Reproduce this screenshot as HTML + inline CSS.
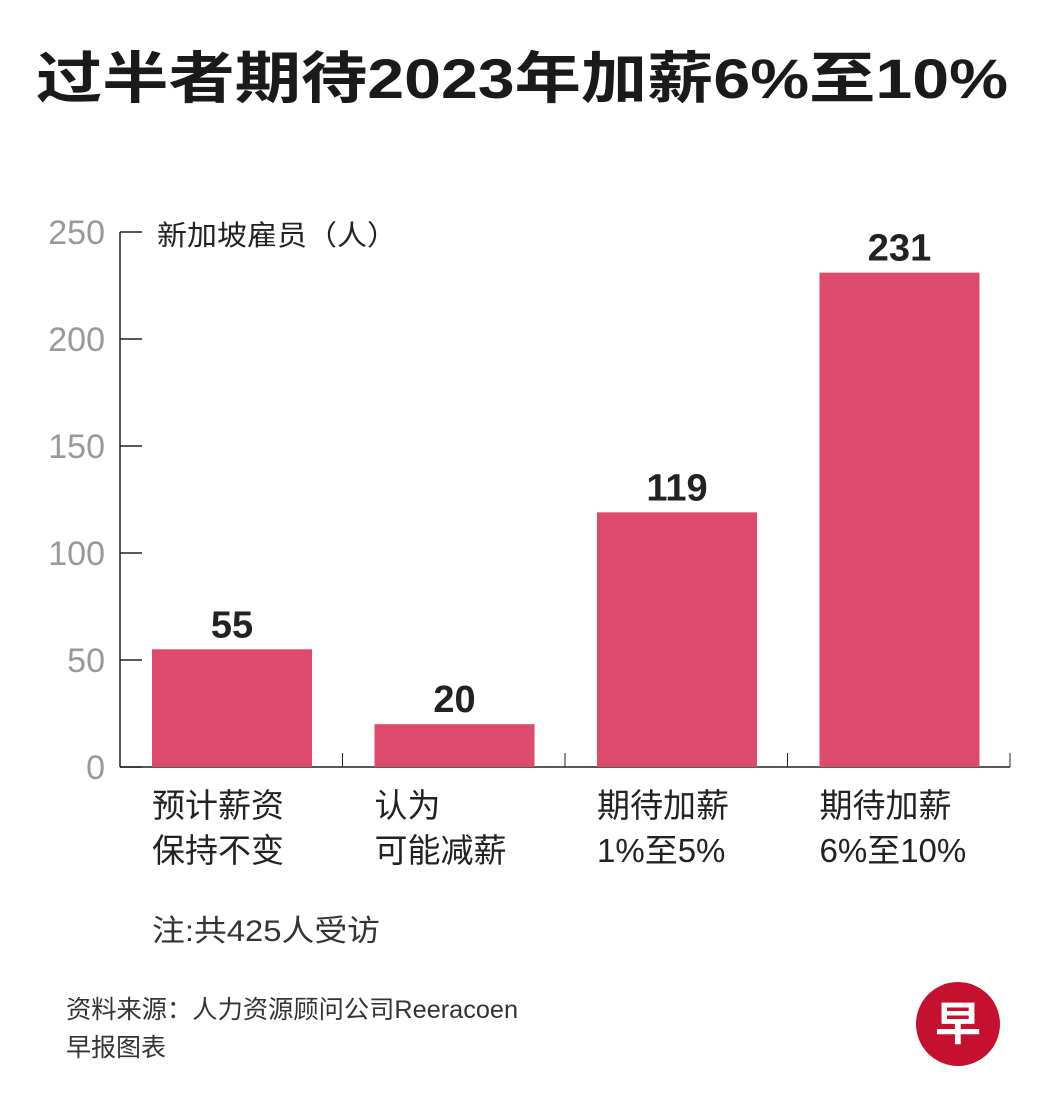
<!DOCTYPE html>
<html><head><meta charset="utf-8">
<style>
html,body{margin:0;padding:0;background:#fff;}
body{width:1042px;height:1112px;overflow:hidden;position:relative;font-family:"Liberation Sans","Noto Sans CJK SC",sans-serif;}
svg text{font-family:"Liberation Sans","Noto Sans CJK SC",sans-serif;}
</style></head>
<body>
<svg id="chart" width="1042" height="1112" viewBox="0 0 1042 1112">
<text x="36" y="98" font-size="56" font-weight="bold" fill="#1a1a1a" textLength="972" lengthAdjust="spacingAndGlyphs">过半者期待2023年加薪6%至10%</text>
<text x="157" y="245" font-size="28" fill="#222" textLength="240" lengthAdjust="spacingAndGlyphs">新加坡雇员（人）</text>
<g id="axes"></g>
<g id="bars"></g>
<text x="152" y="941" font-size="30" fill="#333" textLength="228" lengthAdjust="spacingAndGlyphs">注:共425人受访</text>
<text x="66" y="1018" font-size="25" fill="#333" textLength="452" lengthAdjust="spacingAndGlyphs">资料来源：人力资源顾问公司Reeracoen</text>
<text x="66" y="1056" font-size="25" fill="#333">早报图表</text>
<g>
<circle cx="958" cy="1024" r="42" fill="#c5102f"/>
<text x="958" y="1040" font-size="46" font-weight="bold" fill="#fff" text-anchor="middle">早</text>
</g>
</svg>
<script>
const categories1 = ["预计薪资","认为","期待加薪","期待加薪"];
const categories2 = ["保持不变","可能减薪","1%至5%","6%至10%"];
const values = [55, 20, 119, 231];
const ticks = [0, 50, 100, 150, 200, 250];
const NS = "http://www.w3.org/2000/svg";
const x0 = 120, x1 = 1010, y0 = 767, yTop = 232, yMax = 250;
const y = v => y0 - (v / yMax) * (y0 - yTop);
const bandW = (x1 - x0) / values.length;
const xBand = i => x0 + i * bandW;
function mk(tag, attrs, parent){const e=document.createElementNS(NS,tag);for(const k in attrs)e.setAttribute(k,attrs[k]);parent.appendChild(e);return e;}
const axes = document.getElementById('axes'), bars = document.getElementById('bars');
let l = mk('line',{x1:x0,y1:yTop,x2:x0,y2:y0,stroke:'#222','stroke-width':1.5},axes);


ticks.forEach(t=>{
  const tl = mk('line',{x1:x0,y1:y(t),x2:x0+22,y2:y(t),stroke:'#222','stroke-width':1.5},axes);
  
  
  const tx = mk('text',{x:105,y:y(t)+12,'font-size':34,fill:'#999','text-anchor':'end'},axes);
  tx.textContent = t;
  
  
});
values.forEach((v,i)=>{
  const bx = xBand(i) + 32, bw = 160;
  const r = mk('rect',{x:bx,y:y(v),width:bw,height:y0-y(v),fill:'#dd4a6c'},bars);
  
  
  const vl = mk('text',{x:bx+bw/2,y:y(v)-12,'font-size':38,'font-weight':'bold',fill:'#222','text-anchor':'middle'},bars);
  vl.textContent = v;
  
  
  const c1 = mk('text',{x:bx,y:817,'font-size':33,fill:'#222'},bars);
  c1.textContent = categories1[i];
  
  
  const c2 = mk('text',{x:bx,y:862,'font-size':33,fill:'#222'},bars);
  c2.textContent = categories2[i];
  
  
  const sx = xBand(i+1);
  const st = mk('line',{x1:sx,y1:y0-14,x2:sx,y2:y0,stroke:'#222','stroke-width':1},axes);
  
  
});
const base = mk('line',{x1:x0,y1:y0,x2:x1,y2:y0,stroke:'#222','stroke-width':1.5},axes);


</script>
</body></html>
